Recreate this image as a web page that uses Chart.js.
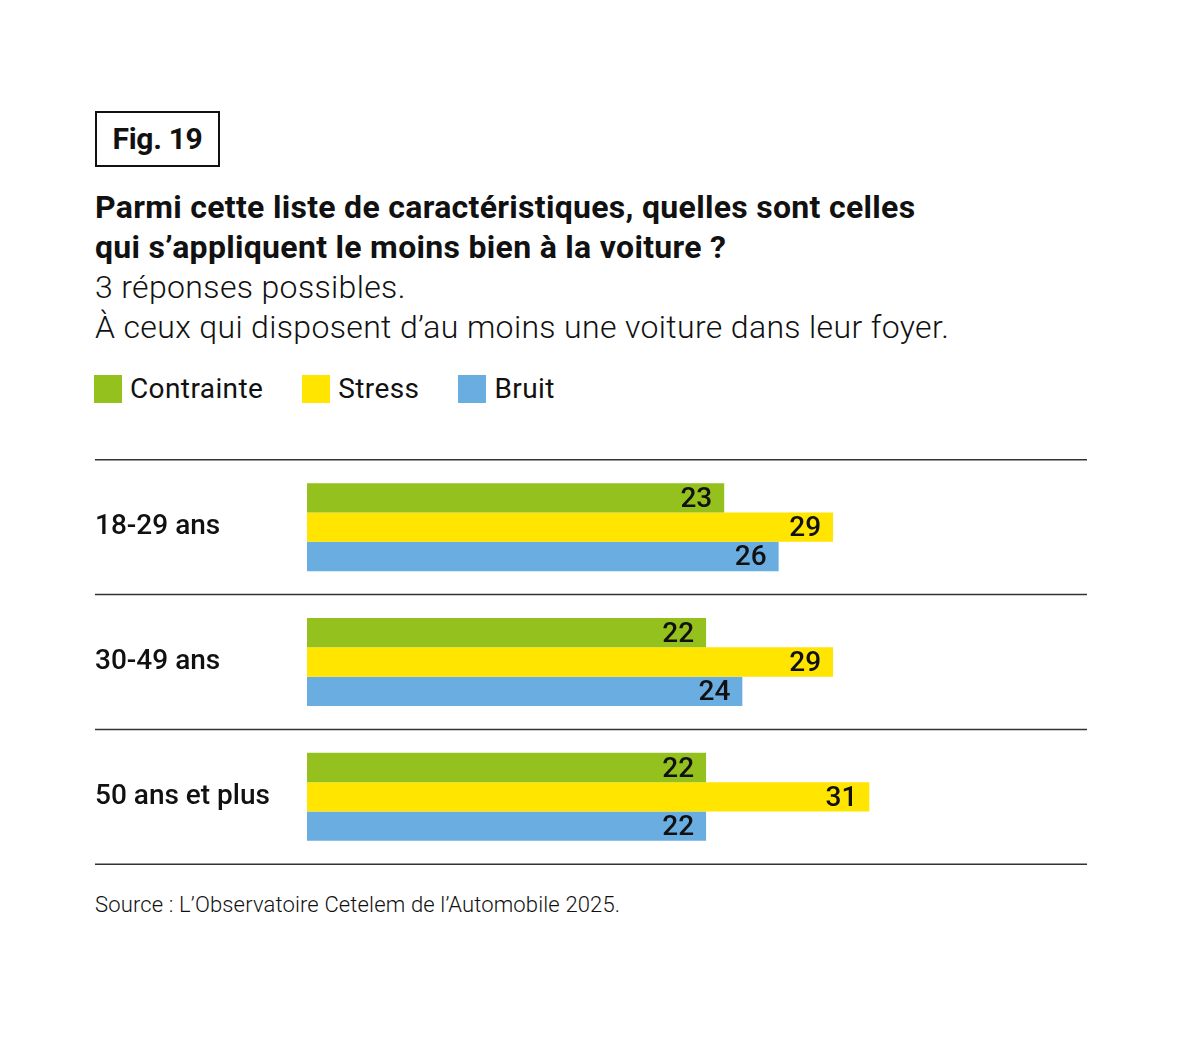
<!DOCTYPE html>
<html lang="fr">
<head>
<meta charset="UTF-8">
<title>Fig. 19</title>
<style>
  body { margin: 0; background: #fff; font-family: Roboto, Arial, sans-serif; color: #111; }
  .page { position: relative; width: 1181px; height: 1063px; }
  .fig { position: absolute; left: 95px; top: 111px; width: 121px; height: 52px; border: 2px solid #111;
         font-weight: 700; font-size: 30px; line-height: 52px; text-align: center; letter-spacing: -0.3px; }
  .title { position: absolute; left: 95px; top: 187px; font-size: 32px; line-height: 40px; font-weight: 700; letter-spacing: 0.3px; }
  .sub { position: absolute; left: 95px; top: 267px; font-size: 32px; line-height: 40px; font-weight: 300; letter-spacing: 0.35px; }
  .legend { position: absolute; left: 94px; top: 372px; display: flex; font-size: 28px; letter-spacing: 0.4px; }
  .legend span.item { display: flex; align-items: center; margin-right: 39px; }
  .legend i { display: inline-block; width: 28px; height: 28px; margin-right: 8px; }
  .chartbox { position: absolute; left: 95px; top: 443px; width: 992px; height: 438px; }
  .source { position: absolute; left: 95px; top: 892px; font-size: 22px; font-weight: 300; letter-spacing: 0.15px; }
</style>
<script src="https://cdn.jsdelivr.net/npm/chart.js"></script>
</head>
<body>
<div class="page">
  <div class="fig">Fig. 19</div>
  <div class="title">Parmi cette liste de caractéristiques, quelles sont celles<br>qui s’appliquent le moins bien à la voiture ?</div>
  <div class="sub">3 réponses possibles.<br>À ceux qui disposent d’au moins une voiture dans leur foyer.</div>
  <div class="legend" id="legend"></div>
  <div class="chartbox"><canvas id="chart"></canvas></div>
  <div class="source">Source : L’Observatoire Cetelem de l’Automobile 2025.</div>
</div>

<script>
  const categories = ['18-29 ans', '30-49 ans', '50 ans et plus'];
  const seriesNames = ['Contrainte', 'Stress', 'Bruit'];
  const contrainte = [23, 22, 22];
  const stress = [29, 29, 31];
  const bruit = [26, 24, 22];
  const colors = ['#95c11f', '#ffe500', '#6aade0'];

  // legend in html
  const legend = document.getElementById('legend');
  seriesNames.forEach((name, i) => {
    legend.innerHTML += `<span class="item"><i style="background:${colors[i]}"></i>${name}</span>`;
  });

  // horizontal separators between the age groups
  const separators = {
    id: 'separators',
    afterDraw(chart) {
      const ctx = chart.ctx;
      const y = chart.scales.y;
      const half = (y.getPixelForValue(1) - y.getPixelForValue(0)) / 2;
      ctx.save();
      ctx.strokeStyle = '#333';
      ctx.lineWidth = 1.5;
      for (let i = 0; i <= categories.length; i++) {
        const py = y.getPixelForValue(i) - half;
        ctx.beginPath();
        ctx.moveTo(0, py);
        ctx.lineTo(chart.width, py);
        ctx.stroke();
      }
      ctx.restore();
    }
  };

  // values written inside the end of each bar
  const barValues = {
    id: 'barValues',
    afterDatasetsDraw(chart) {
      const ctx = chart.ctx;
      ctx.save();
      ctx.font = '500 28px Roboto';
      ctx.fillStyle = '#111';
      ctx.textAlign = 'right';
      ctx.textBaseline = 'middle';
      chart.data.datasets.forEach((ds, di) => {
        chart.getDatasetMeta(di).data.forEach((bar, i) => {
          ctx.fillText(ds.data[i], bar.x - 12, bar.y + 2);
        });
      });
      ctx.restore();
    }
  };

  new Chart(document.getElementById('chart'), {
    type: 'bar',
    data: {
      labels: categories,
      datasets: [contrainte, stress, bruit].map((d, i) => ({
        label: seriesNames[i],
        data: d,
        backgroundColor: colors[i],
        barPercentage: 1,
        categoryPercentage: 0.652
      }))
    },
    options: {
      indexAxis: 'y',
      responsive: true,
      maintainAspectRatio: false,
      animation: false,
      layout: { padding: { top: 10, bottom: 10, left: 0, right: 0 } },
      plugins: { legend: { display: false }, tooltip: { enabled: false } },
      scales: {
        x: { display: false, min: 0, max: 43 },
        y: {
          grid: { display: false },
          border: { display: false },
          ticks: {
            color: '#111',
            font: { family: 'Roboto', size: 28, weight: '500' },
            crossAlign: 'far',
            padding: 0
          },
          afterFit(scale) { scale.width = 212; }
        }
      }
    },
    plugins: [separators, barValues]
  });
</script>
</body>
</html>
